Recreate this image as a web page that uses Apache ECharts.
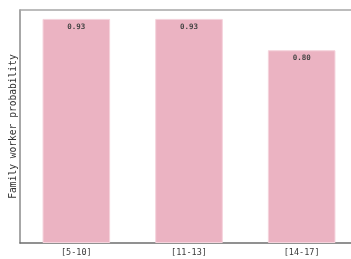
<!DOCTYPE html>
<html>
<head>
<meta charset="utf-8">
<script src="https://cdn.jsdelivr.net/npm/echarts@6/dist/echarts.min.js"></script>
<style>
  html, body { margin: 0; padding: 0; background: #fff; }
  #chart { width: 351px; height: 259px; }
</style>
</head>
<body>
<div id="chart"></div>
<script>
// 数据
var categories = ['[5-10]', '[11-13]', '[14-17]'];
var values = [0.93, 0.93, 0.80];
var yName = 'Family worker probability';

(function () {
    var mono = 'DejaVu Sans Mono';
    var option = {
        animation: false,
        grid: {
            left: 20,
            top: 10,
            width: 338,
            height: 233,
            outerBoundsMode: 'none',  // 允许超出容器
            containLabel: false
        },
        xAxis: [{
            type: 'category',
            data: categories,
            axisLine: { show: true, lineStyle: { color: '#6e6e6e', width: 1.5 } },
            axisTick: { show: false },
            axisLabel: { color: '#3a3a3a', fontFamily: mono, fontSize: 8.5, margin: 5 }
        }, {
            // 顶部边框线
            type: 'category',
            position: 'top',
            data: categories,
            axisLine: { show: true, lineStyle: { color: '#a6a6a6', width: 1.5 } },
            axisTick: { show: false },
            axisLabel: { show: false }
        }],
        yAxis: {
            type: 'value',
            min: 0,
            max: 0.967,
            name: yName,
            nameLocation: 'middle',
            nameGap: 2,
            nameTextStyle: { color: '#333', fontFamily: mono, fontSize: 9.6 },
            axisLine: { show: true, lineStyle: { color: '#8a8a8a', width: 1.5 } },
            axisTick: { show: false },
            axisLabel: { show: false },
            splitLine: { show: false }
        },
        series: [{
            type: 'bar',
            data: values,
            barWidth: '60%',
            itemStyle: { color: '#ebb3c2', borderColor: '#f5d3dc', borderWidth: 1 },
            label: {
                show: true,
                position: 'insideTop',
                distance: 4,
                color: '#444',
                fontFamily: mono,
                fontSize: 7.5,
                fontWeight: 'bold',
                formatter: function (p) { return p.value.toFixed(2); }
            }
        }]
    };
    var myechart = echarts.init(document.getElementById('chart'));
    myechart.setOption(option);
})();
</script>
</body>
</html>
